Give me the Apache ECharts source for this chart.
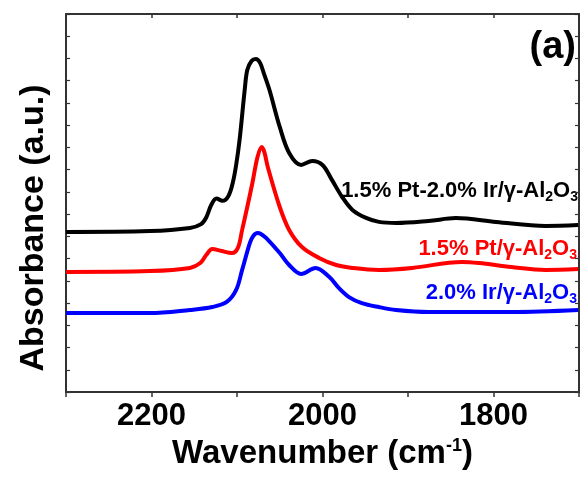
<!DOCTYPE html>
<html><head><meta charset="utf-8">
<script src="https://cdn.jsdelivr.net/npm/echarts@6/dist/echarts.min.js"></script>
<style>html,body{margin:0;padding:0;background:#fff}#c{width:582px;height:477px}</style>
</head><body><div id="c"></div>
<script>
// Wavenumbers (cm-1) and absorbance (a.u., offset)
const blackWn  = [2300, 2202, 2155, 2142, 2136, 2130, 2124, 2117, 2110, 2105, 2101, 2097, 2091, 2088, 2083, 2078, 2073, 2068, 2062, 2050, 2039, 2025, 2012, 2000, 1989, 1977, 1965, 1949, 1934, 1914, 1876, 1844, 1797, 1739, 1701];
const blackAbs = [7.20, 7.24, 7.38, 7.55, 7.85, 8.42, 8.70, 8.60, 8.82, 9.40, 10.21, 11.33, 13.58, 14.48, 14.89, 14.98, 14.80, 14.26, 13.58, 11.92, 10.75, 10.21, 10.39, 10.21, 9.54, 8.77, 8.19, 7.83, 7.65, 7.60, 7.69, 7.82, 7.65, 7.47, 7.51];

const redWn  = [2300, 2202, 2155, 2143, 2136, 2129, 2118, 2106, 2099, 2094, 2088, 2082, 2076, 2071, 2068, 2064, 2050, 2039, 2024, 2004, 1984, 1965, 1934, 1895, 1837, 1817, 1779, 1739, 1701];
const redAbs = [5.40, 5.44, 5.58, 5.80, 6.16, 6.43, 6.34, 6.25, 6.48, 7.29, 8.32, 9.40, 10.57, 11.02, 10.79, 10.12, 8.32, 7.29, 6.52, 6.03, 5.71, 5.58, 5.49, 5.58, 5.85, 5.80, 5.62, 5.49, 5.53];

const blueWn  = [2300, 2202, 2155, 2129, 2112, 2101, 2094, 2085, 2081, 2076, 2072, 2066, 2050, 2039, 2025, 2008, 1992, 1981, 1969, 1954, 1934, 1914, 1876, 1837, 1779, 1701];
const blueAbs = [3.55, 3.55, 3.69, 3.82, 4.05, 4.59, 5.49, 6.70, 7.02, 7.15, 7.11, 6.93, 6.25, 5.71, 5.31, 5.58, 5.17, 4.68, 4.27, 4.00, 3.82, 3.69, 3.60, 3.60, 3.60, 3.69];

const xTickLabels = ['2200', '2000', '1800'];
const seriesNames = ['1.5% Pt-2.0% Ir/γ-Al2O3', '1.5% Pt/γ-Al2O3', '2.0% Ir/γ-Al2O3'];
const seriesColors = ['#000000', '#ff0000', '#0000ff'];

const zip = (a, b) => a.map((v, i) => [v, b[i]]);
const FONT = 'Liberation Sans, Arial, sans-serif';
const frame = { show: true, onZero: false, lineStyle: { color: '#333', width: 2 } };

const chart = echarts.init(document.getElementById('c'));
chart.setOption({
  animation: false,
  backgroundColor: '#fff',
  grid: { left: 66, right: 1, top: 14, bottom: 85, containLabel: false },
  xAxis: [
    {
      type: 'value', position: 'bottom', inverse: true, min: 1700, max: 2300, interval: 100,
      axisLine: frame,
      axisTick: { show: true, inside: false, length: 5, lineStyle: { color: '#333', width: 1.5 } },
      axisLabel: {
        formatter: v => xTickLabels.includes(String(v)) ? String(v) : '',
        fontFamily: FONT, fontWeight: 'bold', fontSize: 31, color: '#000', margin: 9
      },
      splitLine: { show: false },
      name: 'Wavenumber (cm{sup|-1})',
      nameLocation: 'middle', nameGap: 44,
      nameTextStyle: {
        fontFamily: FONT, fontWeight: 'bold', fontSize: 33, color: '#000',
        rich: { sup: { fontFamily: FONT, fontWeight: 'bold', fontSize: 18, color: '#000', verticalAlign: 'bottom', padding: [0, 0, 16, 0] } }
      }
    },
    {
      type: 'value', position: 'top', inverse: true, min: 1700, max: 2300, interval: 100,
      axisLine: frame,
      axisTick: { show: true, inside: true, length: 4, lineStyle: { color: '#333', width: 1.5 } },
      axisLabel: { show: false }, splitLine: { show: false }
    }
  ],
  yAxis: [
    {
      type: 'value', position: 'left', min: 0, max: 17, interval: 1,
      axisLine: frame,
      axisTick: { show: true, inside: true, length: 4, lineStyle: { color: '#333', width: 1.2 } },
      axisLabel: { show: false }, splitLine: { show: false }
    },
    {
      type: 'value', position: 'right', min: 0, max: 17, interval: 1,
      axisLine: frame,
      axisTick: { show: true, inside: true, length: 4, lineStyle: { color: '#333', width: 1.2 } },
      axisLabel: { show: false }, splitLine: { show: false }
    }
  ],
  series: [
    { name: seriesNames[2], type: 'line', data: zip(blueWn, blueAbs), smooth: 0.35, showSymbol: false, lineStyle: { color: seriesColors[2], width: 4 }, itemStyle: { color: seriesColors[2] } },
    { name: seriesNames[1], type: 'line', data: zip(redWn, redAbs), smooth: 0.35, showSymbol: false, lineStyle: { color: seriesColors[1], width: 4 }, itemStyle: { color: seriesColors[1] } },
    { name: seriesNames[0], type: 'line', data: zip(blackWn, blackAbs), smooth: 0.35, showSymbol: false, lineStyle: { color: seriesColors[0], width: 4 }, itemStyle: { color: seriesColors[0] } }
  ],
  graphic: [
    {
      type: 'text', x: 34, y: 228, rotation: Math.PI / 2,
      style: { text: 'Absorbance (a.u.)', fontFamily: FONT, fontWeight: 'bold', fontSize: 34, fill: '#000', align: 'center', verticalAlign: 'middle' }
    },
    {
      type: 'text', x: 576, y: 48,
      style: { text: '(a)', fontFamily: FONT, fontWeight: 'bold', fontSize: 38, fill: '#000', align: 'right', verticalAlign: 'middle' }
    },
    {
      type: 'text', x: 578, y: 191,
      style: {
        text: '1.5% Pt-2.0% Ir/γ-Al{s|2}O{s|3}', fontFamily: FONT, fontWeight: 'bold', fontSize: 22, fill: seriesColors[0], align: 'right', verticalAlign: 'middle',
        rich: { s: { fontFamily: FONT, fontWeight: 'bold', fontSize: 14, fill: seriesColors[0], verticalAlign: 'top', padding: [12, 0, 0, 0] } }
      }
    },
    {
      type: 'text', x: 577, y: 249,
      style: {
        text: '1.5% Pt/γ-Al{s|2}O{s|3}', fontFamily: FONT, fontWeight: 'bold', fontSize: 22, fill: seriesColors[1], align: 'right', verticalAlign: 'middle',
        rich: { s: { fontFamily: FONT, fontWeight: 'bold', fontSize: 14, fill: seriesColors[1], verticalAlign: 'top', padding: [12, 0, 0, 0] } }
      }
    },
    {
      type: 'text', x: 577, y: 293,
      style: {
        text: '2.0% Ir/γ-Al{s|2}O{s|3}', fontFamily: FONT, fontWeight: 'bold', fontSize: 22, fill: seriesColors[2], align: 'right', verticalAlign: 'middle',
        rich: { s: { fontFamily: FONT, fontWeight: 'bold', fontSize: 14, fill: seriesColors[2], verticalAlign: 'top', padding: [12, 0, 0, 0] } }
      }
    }
  ]
});
</script></body></html>
